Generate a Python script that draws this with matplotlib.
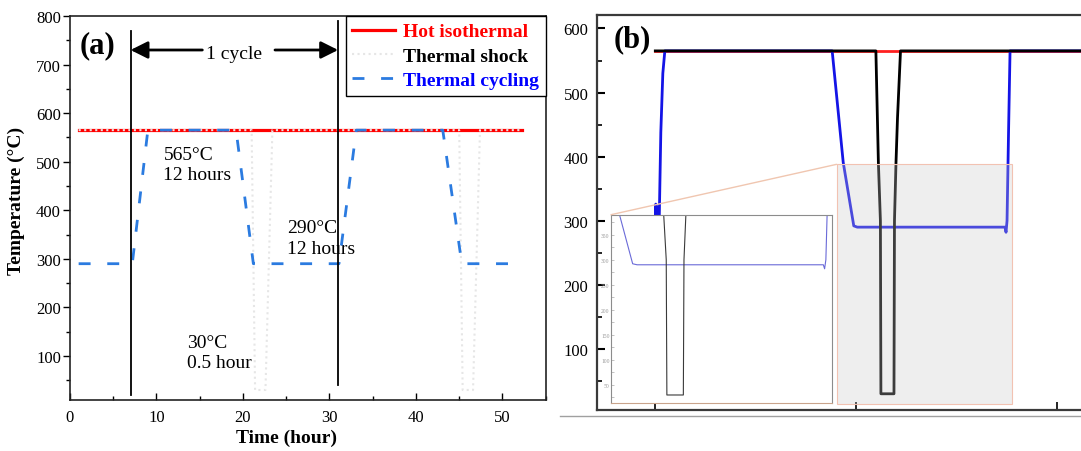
import numpy as np
import matplotlib.pyplot as plt
from matplotlib.lines import Line2D
from matplotlib.patches import Rectangle, ConnectionPatch
from matplotlib.ticker import MultipleLocator

plt.rcParams['font.family'] = ['Liberation Serif', 'DejaVu Serif']

# ---- panel (a): schematic temperature profiles (time in hours, temperature in C)
hot_t = [1, 52.3]
hot_T = [565, 565]
shock_t = [1, 21.0, 21.4, 22.6, 23.4, 45.0, 45.4, 46.6, 47.4, 52.3]
shock_T = [565, 565, 30, 30, 565, 565, 30, 30, 565, 565]
cyc_t = [1, 7.2, 9.0, 19.2, 21.2, 31.1, 33.1, 43.1, 45.3, 51]
cyc_T = [290, 290, 565, 565, 290, 290, 565, 565, 290, 290]
cycle_marks = [7, 31]
cycle_marks_lo = [20, 40]
cycle_marks_hi = [770, 790]
series_labels = ['Hot isothermal', 'Thermal shock', 'Thermal cycling']
notes = [('565°C\n12 hours', 10.8, 495), ('290°C\n12 hours', 25.1, 343),
         ('30°C\n0.5 hour', 13.5, 107)]

# ---- panel (b): measured profiles
b_hot_t = [0, 43.5]
b_hot_T = [565, 565]
b_shock_t = [0, 21.95, 22.1, 22.2, 22.4, 22.45, 23.75, 23.8, 23.95, 24.1, 24.4, 43.5]
b_shock_T = [565, 565, 460, 390, 300, 30, 30, 300, 390, 460, 565, 565]
b_cyc_t = [0.0, 0.05, 0.1, 0.15, 0.2, 0.3, 0.4, 0.55, 0.75, 0.95, 17.6, 18.7,
           19.75, 20.1, 34.8, 34.9, 35.0, 35.15, 35.3, 43.5]
b_cyc_T = [296, 326, 284, 322, 292, 305, 308, 438, 530, 565, 565, 391,
           292, 290, 290, 282, 300, 438, 565, 565]
zoom_x = (18.04, 35.46)
zoom_y = (14, 388)

W, H = 1081, 452
fig = plt.figure(figsize=(W / 100, H / 100), dpi=100)

# ================= (a)
ax = fig.add_axes([70 / W, 1 - 400.7 / H, 475.7 / W, 383.7 / H])
ax.plot(hot_t, hot_T, color='#ff0000', lw=2.3, label=series_labels[0], zorder=2)
ax.plot(shock_t, shock_T, color='#e6e6e6', lw=1.5, ls=':', label=series_labels[1], zorder=3)
ax.plot(cyc_t, cyc_T, color='#2b7be0', lw=2, ls=(0, (4.3, 6)), label=series_labels[2], zorder=4)
for xm, lo, hi in zip(cycle_marks, cycle_marks_lo, cycle_marks_hi):
    ax.plot([xm, xm], [lo, hi], color='k', lw=1.3, zorder=5)

arr = dict(arrowstyle='-|>', color='k', lw=2, mutation_scale=26, shrinkA=0, shrinkB=0)
ax.annotate('', xy=(cycle_marks[0], 730), xytext=(15.3, 730), arrowprops=arr)
ax.annotate('', xy=(cycle_marks[1], 730), xytext=(23.7, 730), arrowprops=arr)
ax.text(19, 722, '1 cycle', fontsize=14, ha='center', va='center')
for txt, tx, ty in notes:
    ax.text(tx, ty, txt, fontsize=14, ha='left', va='center', linespacing=1.25)
ax.text(0.021, 0.924, '(a)', transform=ax.transAxes, fontsize=22,
        fontweight='bold', ha='left', va='center')

ax.set_xlim(0, 55)
ax.set_ylim(10, 800)
ax.set_xticks(np.arange(0, 51, 10))
ax.set_yticks(np.arange(100, 801, 100))
ax.xaxis.set_minor_locator(MultipleLocator(5))
ax.yaxis.set_minor_locator(MultipleLocator(50))
ax.tick_params(axis='x', which='both', direction='in', labelsize=12, pad=7)
ax.tick_params(axis='y', which='both', direction='out', labelsize=12, pad=1.5)
ax.tick_params(which='major', length=5, width=1)
ax.tick_params(which='minor', length=3, width=1)
for s in ax.spines.values():
    s.set_linewidth(1.2)
    s.set_color('#222222')
ax.set_xlabel('Time (hour)', fontsize=14, fontweight='bold')
ax.set_ylabel('Temperature (°C)', fontsize=14, fontweight='bold')
ax.xaxis.set_label_coords(0.456, -0.075)
ax.yaxis.set_label_coords(-0.095, 0.52)

leg = ax.legend(loc='upper right', bbox_to_anchor=(1, 1), borderaxespad=0,
                prop={'weight': 'bold', 'size': 14}, fancybox=False, framealpha=1,
                edgecolor='k', borderpad=0.35, handlelength=2.2, handletextpad=0.4,
                labelspacing=0.35)
leg.get_frame().set_linewidth(1)
for t, c in zip(leg.get_texts(), ['#ff0000', 'k', '#0000ff']):
    t.set_color(c)

# ================= (b)
axb = fig.add_axes([596.7 / W, 1 - 411 / H, 1 - 596.7 / W, 395 / H])
axb.plot(b_hot_t, b_hot_T, color='#ff2020', lw=2, zorder=2)
axb.plot(b_cyc_t, b_cyc_T, color='#1414e6', lw=2, zorder=3)
axb.plot(b_shock_t, b_shock_T, color='k', lw=2, zorder=4)
axb.add_patch(Rectangle((zoom_x[0], zoom_y[0]), zoom_x[1] - zoom_x[0], zoom_y[1] - zoom_y[0],
                        facecolor='#c8c8c8', alpha=0.3, edgecolor='none', zorder=6))
axb.add_patch(Rectangle((zoom_x[0], zoom_y[0]), zoom_x[1] - zoom_x[0], zoom_y[1] - zoom_y[0],
                        fill=False, edgecolor='#f2c2b2', lw=0.8, zorder=7))
axb.text(0.034, 0.939, '(b)', transform=axb.transAxes, fontsize=22,
         fontweight='bold', ha='left', va='center')
axb.set_xlim(-5.83, 42.36)
axb.set_ylim(4.7, 621)
axb.set_xticks([0, 20, 40])
axb.set_yticks(np.arange(100, 601, 100))
axb.yaxis.set_minor_locator(MultipleLocator(50))
axb.tick_params(axis='x', direction='in', length=6, width=1.2, labelbottom=False)
axb.tick_params(axis='y', which='both', direction='in', labelsize=12, pad=6)
axb.tick_params(axis='y', which='major', length=6, width=1.5)
axb.tick_params(axis='y', which='minor', length=3.5, width=1.2)
axb.spines['right'].set_visible(False)
for s in ['left', 'top', 'bottom']:
    axb.spines[s].set_linewidth(1.6)
    axb.spines[s].set_color('#3a3a3a')

# inset (magnified shaded region)
axi = fig.add_axes([611 / W, 1 - 404 / H, 220.7 / W, 188.3 / H])
axi.plot(b_cyc_t, b_cyc_T, color='#6a6ad8', lw=0.8)
axi.plot(b_shock_t, b_shock_T, color='#3a3a3a', lw=0.8)
axi.set_xlim(*zoom_x)
axi.set_ylim(zoom_y[0], 390)
axi.set_xticks([])
axi.set_yticks(np.arange(50, 351, 50))
axi.yaxis.set_minor_locator(MultipleLocator(25))
axi.tick_params(axis='y', which='both', direction='in', labelsize=4, labelcolor='#999999',
                color='#aaaaaa', length=2, width=0.5, pad=1)
for s in axi.spines.values():
    s.set_linewidth(0.8)
    s.set_color('#8c8c8c')
axi.spines['bottom'].set_color('#c9a48c')

con = ConnectionPatch(xyA=(0, 1), coordsA=axi.transAxes,
                      xyB=(zoom_x[0], zoom_y[1]), coordsB=axb.transData,
                      color='#f0c6b0', lw=1)
fig.add_artist(con)

# screenshot edge under panel (b)
fig.add_artist(Line2D([560 / W, 1], [1 - 417 / H, 1 - 417 / H], transform=fig.transFigure,
                      color='#a0a0a0', lw=1))

fig.savefig('out.png', dpi=100)
